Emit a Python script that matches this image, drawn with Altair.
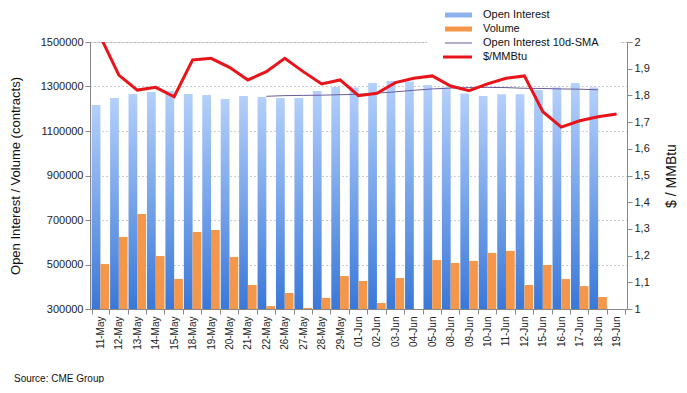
import altair as alt
import pandas as pd

dates = ["11-May", "12-May", "13-May", "14-May", "15-May", "18-May", "19-May", "20-May",
         "21-May", "22-May", "26-May", "27-May", "28-May", "29-May", "01-Jun", "02-Jun",
         "03-Jun", "04-Jun", "05-Jun", "08-Jun", "09-Jun", "10-Jun", "11-Jun", "12-Jun",
         "15-Jun", "16-Jun", "17-Jun", "18-Jun", "19-Jun"]

open_interest = [1217000, 1248000, 1266000, 1275000, 1280000, 1266000, 1262000, 1244000,
                 1257000, 1253000, 1248000, 1248000, 1280000, 1298000, 1296000, 1316000,
                 1325000, 1322000, 1307000, 1296000, 1269000, 1257000, 1265000, 1265000,
                 1284000, 1296000, 1316000, 1296000, None]

volume = [502000, 624000, 727000, 538000, 435000, 646000, 655000, 534000,
          408000, 313000, 372000, 305000, 350000, 448000, 426000, 327000,
          439000, None, 520000, 507000, 516000, 552000, 561000, 408000,
          498000, 435000, 403000, 354000, None]

oi_sma_10d = [None, None, None, None, None, None, None, None, None,
              1256000, 1259000, 1260000, 1261000, 1263000, 1265000, 1270000,
              1276000, 1283000, 1289000, 1293000, 1295000, 1296000, 1295000, 1292000,
              1291000, 1289000, 1288000, 1285000, None]

price = [2.02, 1.876, 1.820, 1.830, 1.795, 1.933, 1.939, 1.905,
         1.858, 1.889, 1.939, 1.889, 1.843, 1.858, 1.799, 1.808,
         1.848, 1.864, 1.873, 1.835, 1.818, 1.843, 1.864, 1.873,
         1.739, 1.681, 1.705, 1.720, 1.730]

left_ticks = [300000, 500000, 700000, 900000, 1100000, 1300000, 1500000]
right_ticks = [1.0, 1.1, 1.2, 1.3, 1.4, 1.5, 1.6, 1.7, 1.8, 1.9, 2.0]

FONT = "Liberation Sans"
W, H = 537, 267

df = pd.DataFrame({"date": dates, "oi": open_interest, "vol": volume,
                   "sma": oi_sma_10d, "price": price})
df_oi = df.assign(series="Open Interest")
df_vol = df.assign(series="Volume")

xscale = alt.Scale(domain=dates, paddingInner=0.05, paddingOuter=0.09)
xaxis = alt.Axis(title=None, labelAngle=270, tickBand="extent", labelFontSize=10,
                 labelFont=FONT, labelColor="#222", domainColor="#888", tickColor="#888",
                 tickSize=5, labelPadding=2, grid=False)
x_enc = alt.X("date:N", scale=xscale, axis=xaxis, sort=dates)
off_enc = alt.XOffset("series:N", scale=alt.Scale(domain=["Open Interest", "Volume"], paddingInner=0, paddingOuter=0))

left_scale = alt.Scale(domain=[300000, 1500000], zero=False, nice=False)
left_axis = alt.Axis(title="Open Interest / Volume (contracts)", values=left_ticks, format="d",
                     labelFontSize=11, labelFont=FONT, labelColor="#222",
                     titleFont=FONT, titleFontSize=13, titleFontWeight="normal", titleColor="#111",
                     titleAngle=270, titleX=-75, titleY=H / 2, titleAlign="center", titleBaseline="middle",
                     domainColor="#888", tickColor="#888", tickSize=5,
                     grid=True, gridColor="#999", gridDash=[1, 3], gridWidth=1)

grad = alt.Gradient(gradient="linear",
                    stops=[alt.GradientStop(color="#b4d0fb", offset=0),
                           alt.GradientStop(color="#3a78d8", offset=1)],
                    x1=0, x2=0, y1=0, y2=1)

oi_bars = alt.Chart(df_oi).mark_bar(color=grad, clip=True).encode(
    x=x_enc, xOffset=off_enc,
    y=alt.Y("oi:Q", scale=left_scale, axis=left_axis),
    y2=alt.datum(300000),
)
vol_bars = alt.Chart(df_vol).mark_bar(color="#f5974b", clip=True).encode(
    x=x_enc, xOffset=off_enc,
    y=alt.Y("vol:Q", scale=left_scale, axis=left_axis),
    y2=alt.datum(300000),
)
sma_line = alt.Chart(df).mark_line(color="#6b5b9b", strokeWidth=1, clip=True).encode(
    x=x_enc,
    y=alt.Y("sma:Q", scale=left_scale, axis=left_axis),
)
left_layer = alt.layer(oi_bars, vol_bars, sma_line)

right_axis = alt.Axis(title="$ / MMBtu", orient="right", values=right_ticks,
                      labelExpr="replace(format(datum.value, '.1~f'), '.', ',')",
                      labelFontSize=11, labelFont=FONT, labelColor="#222",
                      titleFont=FONT, titleFontSize=14, titleFontWeight="normal", titleColor="#111",
                      titleAngle=270, titleX=44, titleY=H / 2, titleAlign="center", titleBaseline="middle",
                      domainColor="#888", tickColor="#888", tickSize=5, grid=False)
price_line = alt.Chart(df).mark_line(color="#e8141a", strokeWidth=3, clip=True).encode(
    x=x_enc,
    y=alt.Y("price:Q", scale=alt.Scale(domain=[1, 2], zero=False, nice=False), axis=right_axis),
)

# legend
one = pd.DataFrame({"k": [0]})
legend_bg = alt.Chart(one).mark_rect(color="white").encode(
    x=alt.value(337), x2=alt.value(530), y=alt.value(-34), y2=alt.value(24))
legend_items = []
rows = [("Open Interest", -27), ("Volume", -13), ("Open Interest 10d-SMA", 1), ("$/MMBtu", 15)]
for label, yy in rows:
    legend_items.append(
        alt.Chart(pd.DataFrame({"t": [label]})).mark_text(
            align="left", baseline="middle", font=FONT, fontSize=11, color="#111").encode(
            x=alt.value(393), y=alt.value(yy), text="t:N"))
legend_items.append(alt.Chart(one).mark_rect(color="#8db3ee").encode(
    x=alt.value(355), x2=alt.value(382), y=alt.value(-29.5), y2=alt.value(-24.5)))
legend_items.append(alt.Chart(one).mark_rect(color="#f5974b").encode(
    x=alt.value(355), x2=alt.value(382), y=alt.value(-15.5), y2=alt.value(-10.5)))
legend_items.append(alt.Chart(one).mark_rule(color="#6b5b9b", strokeWidth=1).encode(
    x=alt.value(355), x2=alt.value(382), y=alt.value(1)))
legend_items.append(alt.Chart(one).mark_rule(color="#e8141a", strokeWidth=3).encode(
    x=alt.value(353), x2=alt.value(382), y=alt.value(15)))

source = alt.Chart(pd.DataFrame({"t": ["Source: CME Group"]})).mark_text(
    align="left", baseline="middle", font=FONT, fontSize=10, color="#111").encode(
    x=alt.value(-76), y=alt.value(337), text="t:N")

chart = alt.layer(left_layer, price_line, legend_bg, *legend_items, source).resolve_scale(
    y="independent"
).properties(
    width=W, height=H,
    autosize=alt.AutoSizeParams(type="none"),
    padding={"left": 82, "top": 34, "right": 50, "bottom": 74},
).configure_view(stroke=None).configure(background="white")

chart.save("out.html", embed_options={"renderer": "svg", "actions": False})
